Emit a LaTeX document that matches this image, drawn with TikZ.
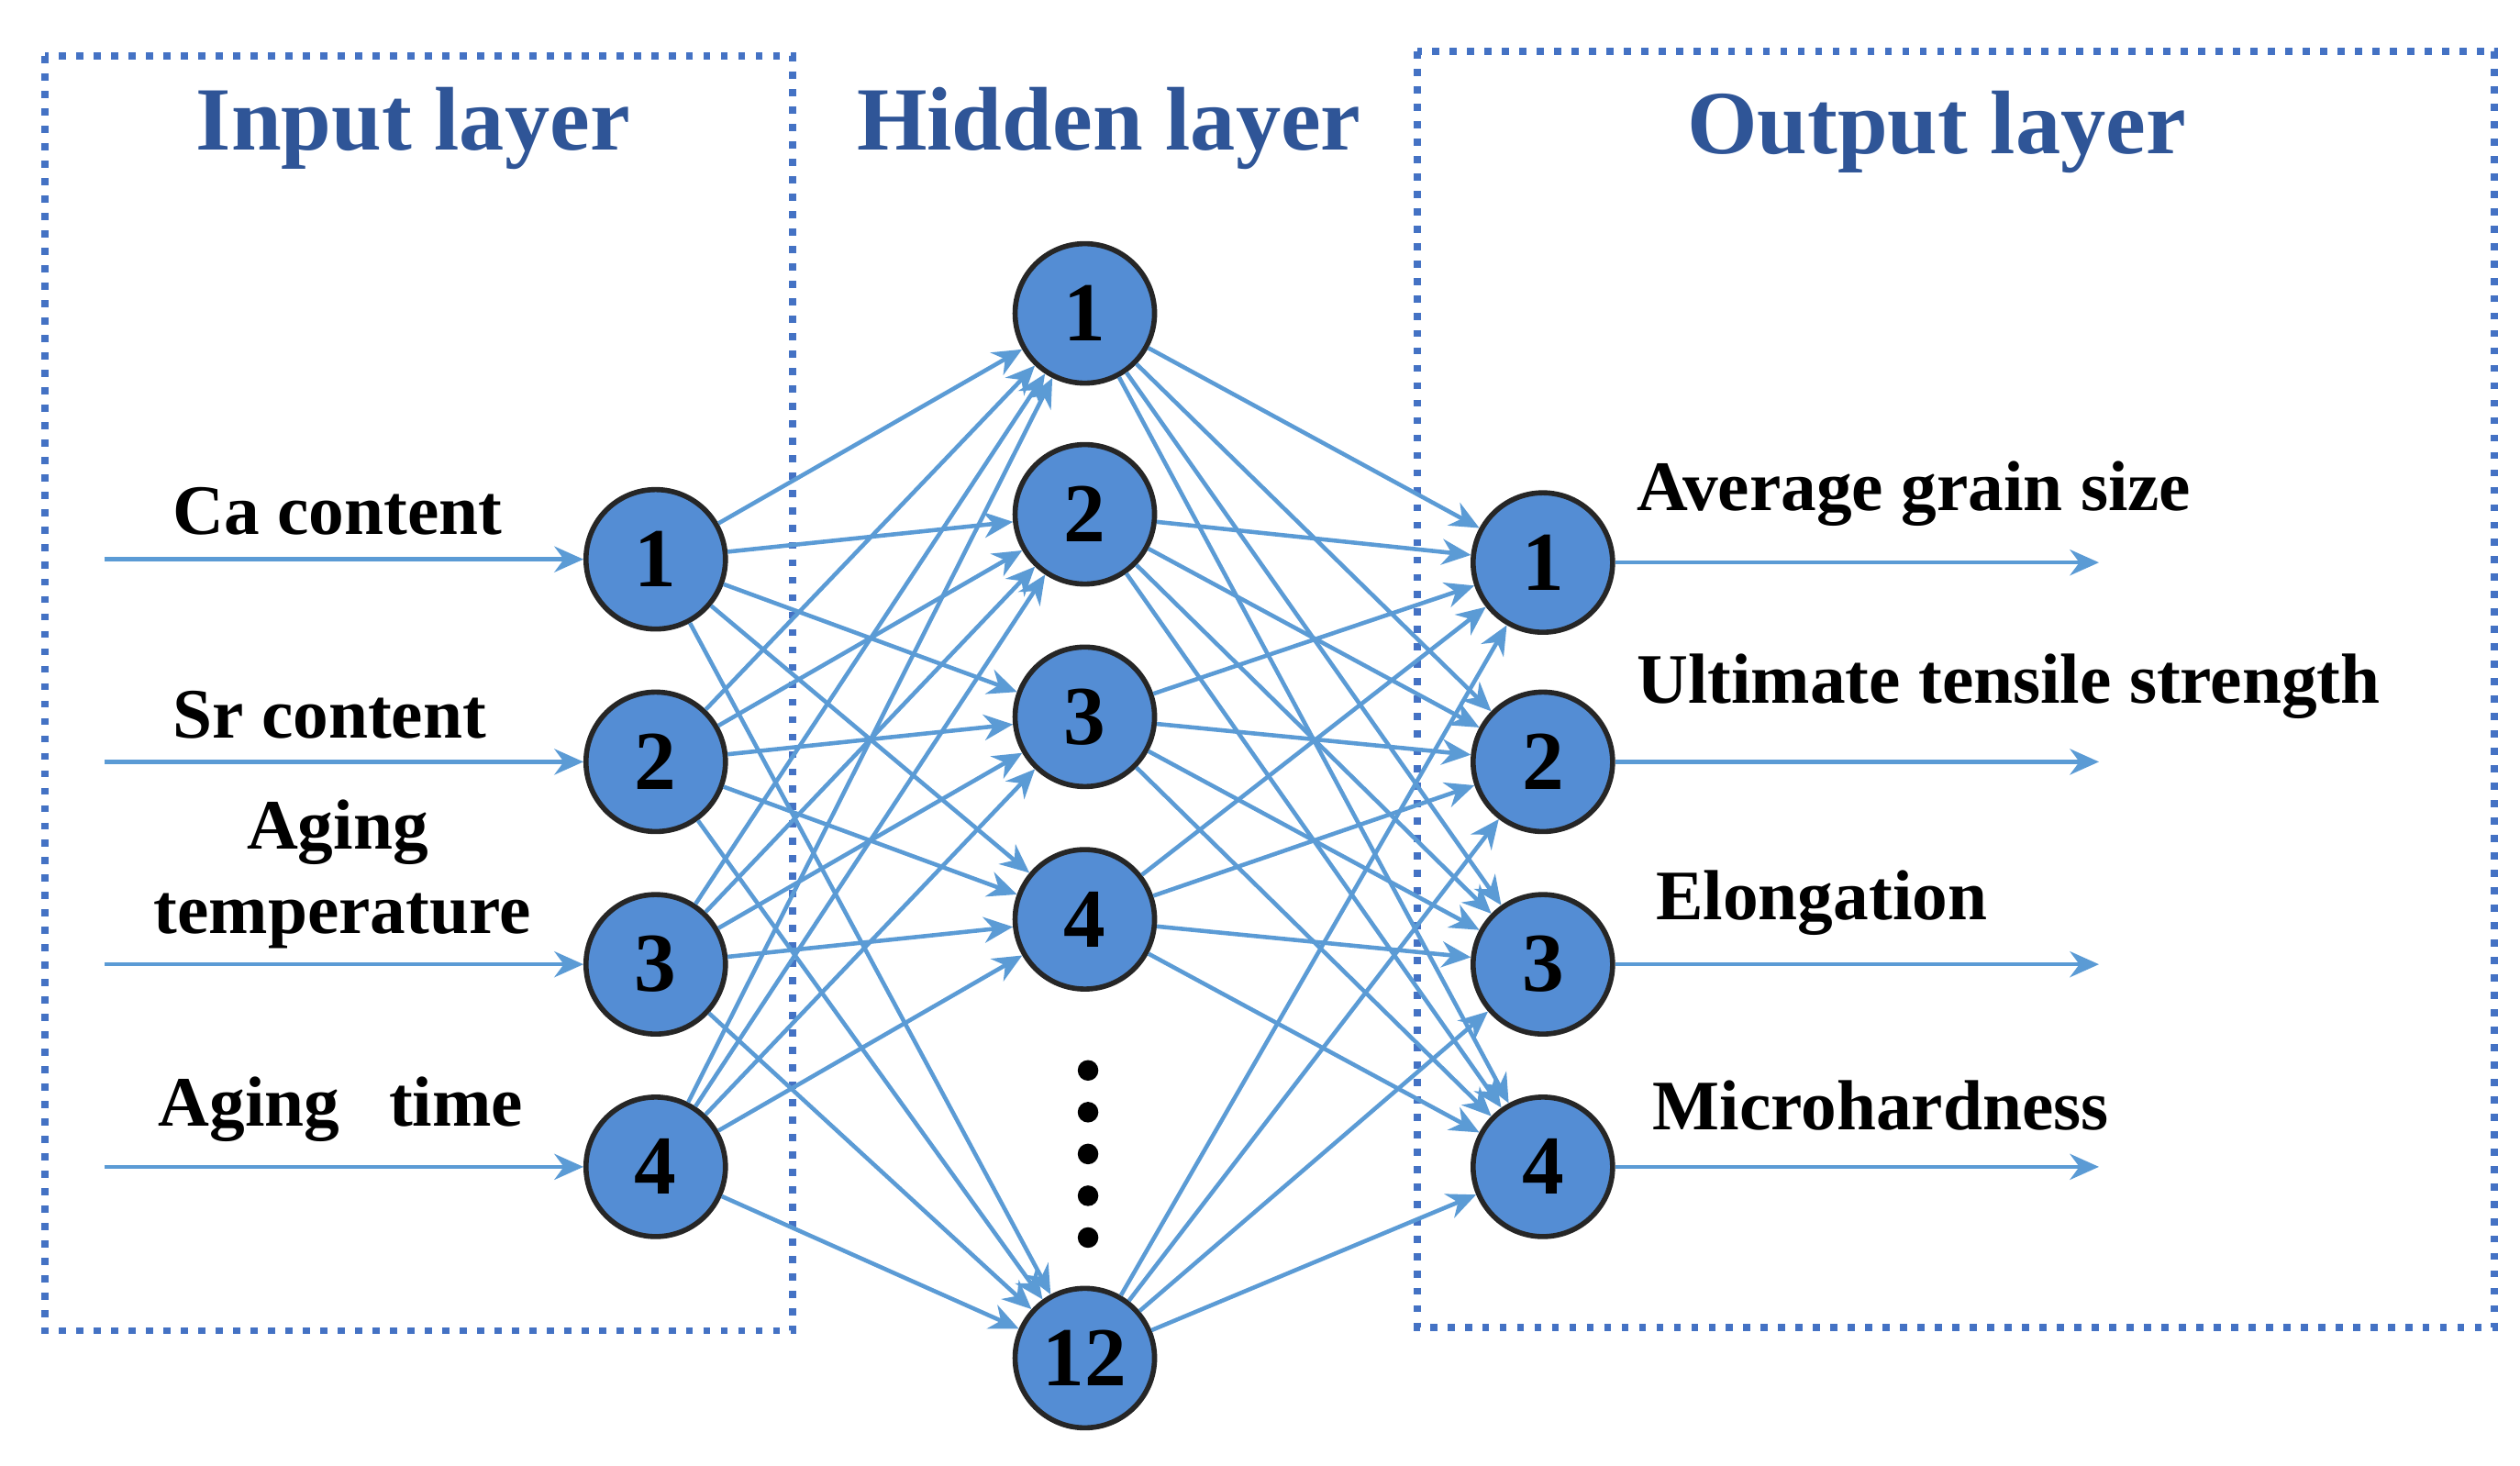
\documentclass[tikz,border=0pt]{standalone}
\usepackage{fontspec}
\setmainfont{Liberation Serif}
\usetikzlibrary{arrows.meta}
\definecolor{ttl}{RGB}{47,85,151}
\definecolor{nfill}{RGB}{84,141,212}
\definecolor{edge}{RGB}{91,155,213}
\definecolor{boxc}{RGB}{68,114,196}
\tikzset{
 neuron/.style={circle,draw=black!85,line width=1.6pt,fill=nfill,minimum size=1.52cm,inner sep=0pt,font=\fontsize{26}{28}\selectfont\bfseries},
 conn/.style={draw=edge,line width=1.3pt,-{Stealth[length=9pt,width=8pt]}},
 ttlf/.style={text=ttl,font=\fontsize{28}{32}\selectfont\bfseries},
 lbl/.style={font=\fontsize{22}{24}\selectfont\bfseries,inner sep=0pt},
 lay/.style={draw=boxc,line width=2.2pt,dash pattern=on 2.2pt off 3.2pt}
}
\begin{document}
\begin{tikzpicture}[x=0.01752cm,y=-0.01752cm]
\useasboundingbox (0,0) rectangle (1568,912);
\draw[lay] (28,35) rectangle (493,828);
\draw[lay] (882,32) rectangle (1552,826);
\node[ttlf] (ti) at (257,80) {Input layer};
\node[ttlf] (th) at (690,80) {Hidden layer};
\node[ttlf] (to) at (1205,82) {Output layer};
\foreach \i/\y in {1/348,2/474,3/600,4/726}{
 \node[neuron] (i\i) at (408,\y) {\i};
 \coordinate (s\i) at (65,\y);
 \draw[conn] (s\i) -- (i\i);
}
\foreach \i/\y in {1/195,2/320,3/446,4/572,12/845}{
 \node[neuron] (h\i) at (675,\y) {\i};
}
\foreach \i/\y in {1/350,2/474,3/600,4/726}{
 \node[neuron] (o\i) at (960,\y) {\i};
 \coordinate (e\i) at (1306,\y);
 \draw[conn] (o\i) -- (e\i);
}
\foreach \a in {1,2,3,4}{\foreach \b in {1,2,3,4,12}{\draw[conn] (i\a) -- (h\b);}}
\foreach \a in {1,2,3,4,12}{\foreach \b in {1,2,3,4}{\draw[conn] (h\a) -- (o\b);}}
\foreach \y in {666,692,718,744,770}{\fill (677,\y) circle (3.2pt);}
\node[lbl] (l1) at (210,318) {Ca content};
\node[lbl] (l2) at (205,445) {Sr content};
\node[lbl] (l3a) at (210,518) {Aging};
\node[lbl] (l3b) at (213,573) {temperature};
\node[lbl] (l4) at (212,690) {Aging\hspace{0.7em}time};
\node[lbl,anchor=west] (r1) at (1018,307) {Average grain size};
\node[lbl,anchor=west] (r2) at (1018,427) {Ultimate tensile strength};
\node[lbl,anchor=west] (r3) at (1030,562) {Elongation};
\node[lbl,anchor=west] (r4) at (1028,688) {Microhardness};
\end{tikzpicture}
\end{document}
